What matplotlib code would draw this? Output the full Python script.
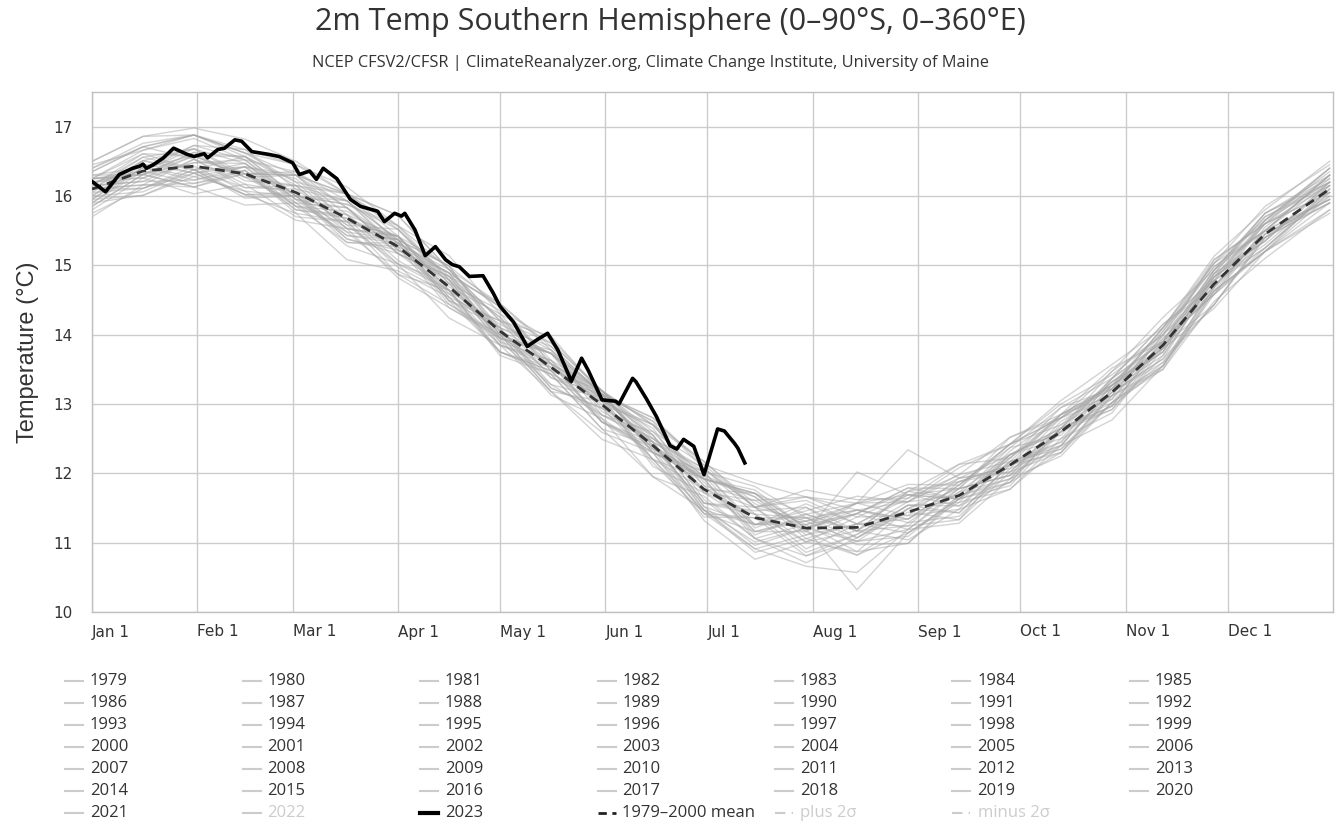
import numpy as np
import matplotlib
matplotlib.use("Agg")
import matplotlib.pyplot as plt
from matplotlib.lines import Line2D

# node days (day of year - 1) used for the 1979-2000 mean and yearly departures
node_days = [0, 15, 30, 45, 60, 75, 90, 105, 120, 135, 150, 165, 180,
             195, 210, 225, 240, 255, 270, 285, 300, 315, 330, 345, 364]
mean_7900 = [16.10, 16.36, 16.43, 16.32, 16.05, 15.68, 15.27, 14.69, 14.05,
             13.53, 12.99, 12.40, 11.77, 11.36, 11.21, 11.22, 11.44, 11.68,
             12.12, 12.60, 13.17, 13.85, 14.73, 15.45, 16.10]

# departures from the 1979-2000 mean, per year (degC), at node_days
a1979 = [-.35,-.25,-.10,-.30,-.30,-.60,-.35,-.15,-.30,-.05,-.25,-.10,-.35,-.20,-.05,-.40,-.15,-.30,-.05,-.25,-.15,-.30,-.10,-.25,-.35]
a1980 = [0.05,-.15,0.10,-.20,0.05,-.10,-.25,0.05,-.15,0.10,-.25,0.00,0.15,-.30,-.40,-.10,0.10,-.25,0.00,-.20,0.05,-.15,0.05,-.20,-.05]
a1981 = [-.25,-.05,-.30,0.05,-.20,-.35,0.00,-.30,-.05,-.35,0.05,-.20,-.40,0.00,0.15,-.25,-.45,0.00,-.20,0.05,-.25,0.00,-.30,0.00,-.20]
a1982 = [-.15,-.35,-.10,-.30,0.00,-.20,-.40,-.05,-.30,-.10,-.35,-.45,-.10,-.30,-.50,-.15,0.00,-.35,-.10,-.30,-.05,-.35,-.10,-.25,0.00]
a1983 = [0.15,-.05,0.20,-.10,0.10,-.15,0.10,-.20,0.15,-.15,0.05,0.25,-.15,-.30,0.05,0.20,-.25,0.10,-.15,0.05,-.20,0.10,-.10,0.05,-.15]
a1984 = [-.30,-.10,-.40,-.15,-.35,-.05,-.40,-.25,-.05,-.35,-.40,-.10,-.45,-.60,-.20,-.05,-.40,-.20,-.35,-.10,-.30,-.05,-.35,-.25,-.30]
a1985 = [-.40,-.20,-.30,-.45,-.15,-.40,-.25,-.45,-.20,-.35,-.50,-.20,-.30,-.45,-.55,-.65,-.25,-.40,-.20,-.35,-.15,-.35,-.25,-.35,-.30]
a1986 = [-.20,0.00,-.25,0.05,-.30,-.05,-.30,-.10,0.00,-.30,-.05,0.05,-.30,-.35,0.00,-.90,-.30,-.05,-.30,0.00,-.20,-.30,0.00,-.20,-.05]
a1987 = [0.00,0.15,-.05,-.20,0.10,-.15,0.15,-.05,-.20,0.10,0.20,0.30,0.05,-.20,0.15,0.25,-.10,0.05,0.15,-.10,0.10,-.05,0.10,-.10,0.10]
a1988 = [0.05,-.15,-.20,0.05,-.25,0.00,0.10,-.20,0.05,-.30,-.05,0.15,-.20,0.15,-.30,0.05,-.20,-.35,0.05,-.15,0.00,-.25,-.05,0.05,-.15]
a1989 = [-.10,-.30,-.05,-.35,-.05,-.30,-.10,-.05,-.35,-.10,-.35,0.00,-.30,-.10,0.05,-.35,-.45,-.05,-.25,-.30,0.00,-.20,-.30,-.05,-.20]
a1990 = [-.15,0.10,-.10,0.15,-.15,-.20,0.10,-.15,0.15,0.05,-.20,-.10,0.20,0.30,-.15,0.05,0.25,-.15,0.05,-.20,0.10,-.10,0.15,-.05,-.10]
a1991 = [0.00,-.20,0.10,-.15,0.00,-.30,-.05,0.10,-.20,0.00,0.10,-.30,-.05,0.05,-.35,-.10,0.10,-.15,-.25,0.05,-.20,0.05,-.15,0.00,-.15]
a1992 = [-.20,-.35,-.15,-.25,-.40,-.15,-.45,-.30,-.10,-.40,-.20,-.45,-.30,-.50,-.15,-.40,-.30,-.10,-.35,-.20,-.40,-.30,-.15,-.25,-.20]
a1993 = [-.25,-.05,-.30,0.00,-.25,0.05,-.20,-.05,-.30,0.00,0.05,-.25,-.35,0.00,-.40,-.20,0.05,-.25,0.00,-.30,-.15,0.00,-.10,-.25,-.10]
a1994 = [-.05,-.25,0.00,-.25,-.05,-.35,0.05,-.25,-.10,0.05,-.25,-.05,-.35,-.45,-.10,0.05,-.30,-.05,0.05,-.25,-.05,-.30,-.05,0.00,-.15]
a1995 = [0.10,-.10,0.15,-.05,-.15,0.15,-.10,0.15,-.05,-.15,0.15,0.00,-.20,0.10,0.30,-.15,0.05,0.20,-.10,0.10,0.15,-.10,0.10,0.15,0.05]
a1996 = [0.00,-.25,-.05,-.30,-.05,-.25,0.05,-.20,-.30,-.05,-.25,0.05,-.25,-.40,0.00,-.20,-.35,0.00,-.25,0.05,-.15,-.25,-.30,-.05,-.20]
a1997 = [-.15,0.05,0.15,0.25,-.05,-.15,0.15,-.05,0.10,0.25,-.10,0.10,0.30,0.05,-.20,0.15,0.25,-.05,0.10,0.25,0.05,-.05,0.20,0.05,0.20]
a1998 = [0.30,0.40,0.45,0.30,0.25,0.15,0.05,0.20,0.00,-.10,0.10,0.15,-.20,0.05,0.15,-.15,0.10,-.10,0.15,0.00,-.10,0.05,0.15,-.10,0.05]
a1999 = [0.00,-.20,-.25,0.00,-.20,0.00,-.25,-.05,0.05,-.25,-.15,0.05,-.25,-.10,0.10,-.20,-.25,0.05,-.20,0.00,-.25,-.15,0.05,-.15,0.00]
a2000 = [-.20,0.05,-.20,0.10,-.10,-.25,0.10,-.15,-.20,0.05,0.10,-.20,0.00,0.15,-.20,-.35,0.05,0.10,-.15,-.20,0.05,0.10,-.15,-.20,0.00]
a2001 = [0.10,-.05,0.05,0.20,-.10,0.15,-.10,0.10,0.20,-.05,-.15,0.20,0.05,0.25,-.05,0.80,0.25,-.05,0.10,0.20,-.10,0.15,0.05,0.15,-.05]
a2002 = [0.15,0.25,-.05,0.10,0.25,-.05,0.15,0.00,0.25,-.05,0.20,-.10,0.15,0.30,-.05,0.35,0.90,0.25,-.05,0.20,0.10,-.10,0.15,0.25,0.10]
a2003 = [0.20,-.05,0.15,-.05,0.25,0.05,-.10,0.15,-.10,0.20,-.15,0.10,0.25,-.15,0.30,-.05,-.20,0.20,0.00,-.15,0.20,0.05,-.15,0.10,0.15]
a2004 = [-.10,0.15,0.25,-.05,0.10,0.25,-.05,0.15,0.20,0.00,0.15,-.10,0.25,-.10,0.20,0.35,-.05,-.20,0.15,0.05,0.20,0.30,-.05,0.15,-.05]
a2005 = [0.15,0.00,0.30,0.20,-.05,0.25,0.10,0.30,0.00,0.20,0.20,0.05,0.30,0.15,0.40,0.05,0.20,0.30,0.05,0.25,0.10,0.20,0.30,0.05,0.20]
a2006 = [0.00,0.20,-.05,0.25,0.15,-.10,0.25,0.10,-.10,0.20,0.15,-.05,0.15,0.35,-.10,0.20,0.30,-.05,0.20,0.25,-.05,0.15,0.25,0.05,0.10]
a2007 = [0.15,-.10,0.05,0.15,-.10,0.05,0.15,-.10,0.05,0.20,-.05,-.20,0.15,-.25,0.20,-.05,0.15,0.25,-.10,0.05,0.15,-.05,0.10,-.10,0.10]
a2008 = [-.10,0.05,-.15,0.10,-.20,0.10,0.05,0.20,-.15,-.25,0.10,0.05,0.20,-.20,0.10,0.25,-.15,0.10,-.15,0.15,0.00,-.20,0.10,-.05,0.05]
a2009 = [0.05,0.20,0.25,0.00,0.25,0.35,0.05,0.25,0.05,0.30,0.15,-.05,0.25,0.45,0.15,-.05,0.30,0.20,0.00,0.25,0.35,0.05,0.20,0.30,0.15]
a2010 = [0.35,0.30,0.40,0.20,0.30,0.25,0.10,0.30,0.35,0.05,0.20,0.15,-.05,0.25,0.45,0.15,-.05,0.25,0.15,0.00,0.20,0.30,0.05,0.20,0.10]
a2011 = [-.05,0.15,-.10,0.10,0.20,-.05,0.15,0.30,-.05,0.20,0.05,0.30,0.10,-.10,0.35,0.05,-.10,0.15,0.25,-.05,0.15,0.05,0.20,0.25,0.05]
a2012 = [0.15,-.05,0.20,0.25,-.05,0.20,0.25,0.05,-.10,0.25,0.15,-.10,0.15,0.35,0.00,0.25,-.10,0.15,0.30,0.10,-.05,0.20,0.25,0.05,0.20]
a2013 = [0.20,0.05,0.30,0.35,0.05,0.25,0.00,0.20,0.35,0.05,0.15,0.35,-.05,-.10,0.25,0.45,0.15,0.00,0.25,0.35,0.05,0.25,0.10,0.20,0.30]
a2014 = [0.25,0.35,0.10,0.00,0.25,0.35,0.15,0.05,0.30,0.40,0.20,0.10,0.00,0.35,0.20,-.05,0.30,0.45,0.10,0.35,0.20,0.05,0.35,0.15,0.30]
a2015 = [0.15,0.30,0.45,0.25,0.10,0.35,0.45,0.25,0.15,0.45,0.15,0.40,0.35,0.15,0.55,0.40,0.20,0.45,0.30,0.45,0.40,0.25,0.40,0.35,0.40]
a2016 = [0.40,0.50,0.55,0.50,0.45,0.35,0.30,0.45,0.25,0.35,0.20,0.30,0.40,0.15,0.10,0.35,0.25,0.10,0.30,0.20,0.10,0.25,0.30,0.20,0.30]
a2017 = [0.30,0.35,0.45,0.30,0.40,0.35,0.25,0.15,0.40,0.30,0.15,0.35,0.40,0.20,0.05,0.35,0.40,0.15,0.30,0.20,0.05,0.25,0.35,0.15,0.20]
a2018 = [0.10,0.00,0.25,0.15,-.05,0.20,0.30,0.10,-.05,0.20,0.10,0.00,0.15,0.35,0.00,0.20,0.35,-.05,0.15,0.05,0.30,0.15,-.05,0.20,0.25]
a2019 = [0.25,0.35,0.45,0.30,0.15,0.35,0.45,0.25,0.15,0.35,0.20,0.20,0.35,0.50,0.45,0.25,0.15,0.40,0.30,0.40,0.25,0.15,0.30,0.40,0.35]
a2020 = [0.40,0.50,0.45,0.35,0.40,0.45,0.30,0.25,0.40,0.25,0.15,0.40,0.30,0.15,0.45,0.35,0.15,0.30,0.40,0.20,0.30,0.40,0.20,0.30,0.20]
a2021 = [0.05,0.25,0.15,0.00,0.30,0.15,-.05,0.20,0.35,0.10,0.00,0.30,0.15,0.40,0.00,0.20,0.35,0.10,0.40,0.25,0.10,0.00,0.15,0.30,0.10]

past_years = list(range(1979, 2022))
past_anoms = [a1979, a1980, a1981, a1982, a1983, a1984, a1985, a1986, a1987,
              a1988, a1989, a1990, a1991, a1992, a1993, a1994, a1995, a1996,
              a1997, a1998, a1999, a2000, a2001, a2002, a2003, a2004, a2005,
              a2006, a2007, a2008, a2009, a2010, a2011, a2012, a2013, a2014,
              a2015, a2016, a2017, a2018, a2019, a2020, a2021]

# 2023 so far
days_2023 = [0, 4, 8, 12, 14, 15, 16, 18, 21, 24, 28, 30, 33, 34, 37, 39, 42, 44, 47, 52,
             55, 59, 61, 64, 66, 68, 72, 76, 79, 84, 86, 89, 91, 92, 95, 98, 101, 104, 106, 108,
             111, 115, 118, 120, 124, 128, 131, 134, 137, 141, 144, 146, 150, 154, 155, 159, 160, 163, 166, 170,
             172, 174, 177, 180, 184, 186, 189, 190, 192]
temp_2023 = [16.21, 16.06, 16.31, 16.40, 16.43, 16.46, 16.40, 16.45, 16.55, 16.69,
             16.60, 16.57, 16.61, 16.55, 16.67, 16.69, 16.81, 16.79, 16.64, 16.60,
             16.57, 16.48, 16.31, 16.36, 16.24, 16.40, 16.25, 15.95, 15.85, 15.78,
             15.63, 15.75, 15.71, 15.75, 15.51, 15.14, 15.27, 15.08, 15.01, 14.98,
             14.84, 14.85, 14.60, 14.41, 14.18, 13.83, 13.93, 14.02, 13.78, 13.33,
             13.66, 13.48, 13.06, 13.04, 13.00, 13.37, 13.32, 13.08, 12.82, 12.40,
             12.35, 12.49, 12.39, 11.98, 12.64, 12.61, 12.43, 12.36, 12.15]

month_starts = [0, 31, 59, 90, 120, 151, 181, 212, 243, 273, 304, 334]
month_labels = ["Jan 1", "Feb 1", "Mar 1", "Apr 1", "May 1", "Jun 1",
                "Jul 1", "Aug 1", "Sep 1", "Oct 1", "Nov 1", "Dec 1"]
y_ticks = [10, 11, 12, 13, 14, 15, 16, 17]

W, H = 1341, 840
fig = plt.figure(figsize=(W / 100, H / 100), dpi=100)
ax = fig.add_axes([92 / W, 1 - 612 / H, (1333 - 92) / W, (612 - 92) / H])

mean_arr = np.array(mean_7900)
for yr, an in zip(past_years, past_anoms):
    ax.plot(node_days, mean_arr + np.array(an), color="#a8a8a8", lw=1.0,
            alpha=0.5, zorder=2)
ax.plot(node_days, mean_7900, color="#333333", lw=2.0, ls=(0, (3.5, 2.2)), zorder=4)
ax.plot(days_2023, temp_2023, color="black", lw=2.6, zorder=5,
        solid_joinstyle="round")

ax.set_xlim(0, 365)
ax.set_ylim(10, 17.5)
ax.set_xticks(month_starts)
ax.set_xticklabels(month_labels)
ax.set_yticks(y_ticks)
ax.grid(True, color="#cccccc", lw=1.0, zorder=0)
ax.set_axisbelow(True)
for s in ax.spines.values():
    s.set_color("#c0c0c0")
    s.set_linewidth(1.0)
ax.tick_params(length=0, labelsize=11, labelcolor="#333333")
ax.tick_params(axis="y", pad=14)
ax.tick_params(axis="x", pad=9)
for lab in ax.get_xticklabels():
    lab.set_horizontalalignment("left")
ax.set_ylabel("Temperature (°C)", fontsize=17, family="Liberation Sans",
              color="#333333", labelpad=10)

fig.text(0.5, 1 - 22 / H, "2m Temp Southern Hemisphere (0–90°S, 0–360°E)",
         ha="center", va="center", fontsize=22, family="Open Sans", color="#333333")
fig.text(651 / W, 1 - 63 / H,
         "NCEP CFSV2/CFSR | ClimateReanalyzer.org, Climate Change Institute, University of Maine",
         ha="center", va="center", fontsize=11.8, family="Open Sans", color="#333333")

# legend, filled row by row like the original
entries = [(str(y), dict(color="#cccccc", lw=1.5), "#333333") for y in past_years]
entries.append(("2022", dict(color="#cccccc", lw=1.5), "#cccccc"))
entries.append(("2023", dict(color="black", lw=3), "#333333"))
entries.append(("1979–2000 mean", dict(color="#222222", lw=2, ls=(0, (3, 2))), "#333333"))
entries.append(("plus 2σ", dict(color="#cccccc", lw=1.5, ls=(0, (5, 3, 1, 3))), "#cccccc"))
entries.append(("minus 2σ", dict(color="#cccccc", lw=1.5, ls=(0, (5, 3, 1, 3))), "#cccccc"))
for i, (label, style, tcol) in enumerate(entries):
    r, c = divmod(i, 7)
    x0 = (65 + c * 177.5) / W
    y0 = 1 - (681 + r * 22) / H
    fig.add_artist(Line2D([x0, x0 + 18 / W], [y0, y0], transform=fig.transFigure, **style))
    fig.text(x0 + 25 / W, y0, label, ha="left", va="center", fontsize=12,
             family="Open Sans", color=tcol)

fig.savefig("out.png", dpi=100)
